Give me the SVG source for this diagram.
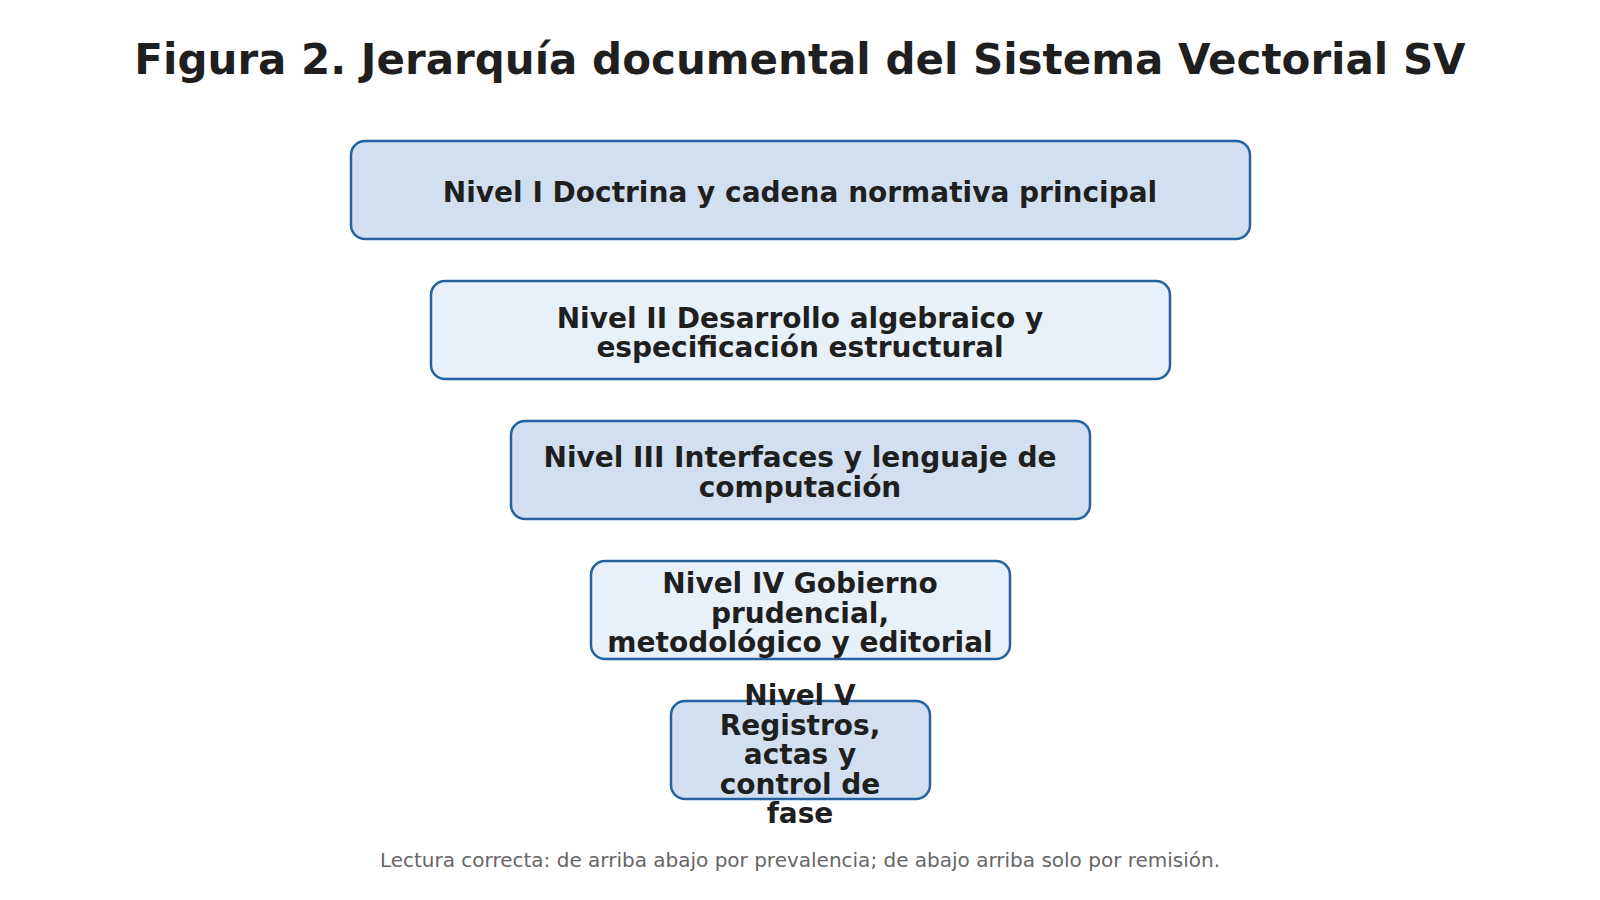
<svg xmlns="http://www.w3.org/2000/svg" width="1600" height="900" viewBox="0 0 1600 900">
<style>
.title{font-family:"DejaVu Sans",sans-serif;font-weight:bold;font-size:42px;fill:#1f1f1f;text-anchor:middle}
.box{stroke:#2462a0;stroke-width:2.5}
.a{fill:#d2dff0}
.b{fill:#e8f0fa}
.lbl{font-family:"DejaVu Sans",sans-serif;font-weight:bold;font-size:28px;fill:#1f1f1f;text-anchor:middle}
.foot{font-family:"DejaVu Sans",sans-serif;font-size:20px;fill:#666666;text-anchor:middle}
</style>
<rect width="1600" height="900" fill="#ffffff"/>
<text class="title" x="800" y="74">Figura 2. Jerarquía documental del Sistema Vectorial SV</text>
<g id="connectors"></g>
<g id="n1">
<rect class="box a" x="351" y="141" width="899" height="98" rx="14"/>
<text class="lbl" x="800" y="202">Nivel I Doctrina y cadena normativa principal</text>
</g>
<g id="n2">
<rect class="box b" x="431" y="281" width="739" height="98" rx="14"/>
<text class="lbl" x="800" y="327.5">Nivel II Desarrollo algebraico y</text>
<text class="lbl" x="800" y="357">especificación estructural</text>
</g>
<g id="n3">
<rect class="box a" x="511" y="421" width="579" height="98" rx="14"/>
<text class="lbl" x="800" y="467">Nivel III Interfaces y lenguaje de</text>
<text class="lbl" x="800" y="497">computación</text>
</g>
<g id="n4">
<rect class="box b" x="591" y="561" width="419" height="98" rx="14"/>
<text class="lbl" x="800" y="593">Nivel IV Gobierno</text>
<text class="lbl" x="800" y="622.5">prudencial,</text>
<text class="lbl" x="800" y="652">metodológico y editorial</text>
</g>
<g id="n5">
<rect class="box a" x="671" y="701" width="259" height="98" rx="14"/>
<text class="lbl" x="800" y="705">Nivel V</text>
<text class="lbl" x="800" y="734.5">Registros,</text>
<text class="lbl" x="800" y="764">actas y</text>
<text class="lbl" x="800" y="793.5">control de</text>
<text class="lbl" x="800" y="823">fase</text>
</g>
<text class="foot" x="800" y="867">Lectura correcta: de arriba abajo por prevalencia; de abajo arriba solo por remisión.</text>
</svg>
